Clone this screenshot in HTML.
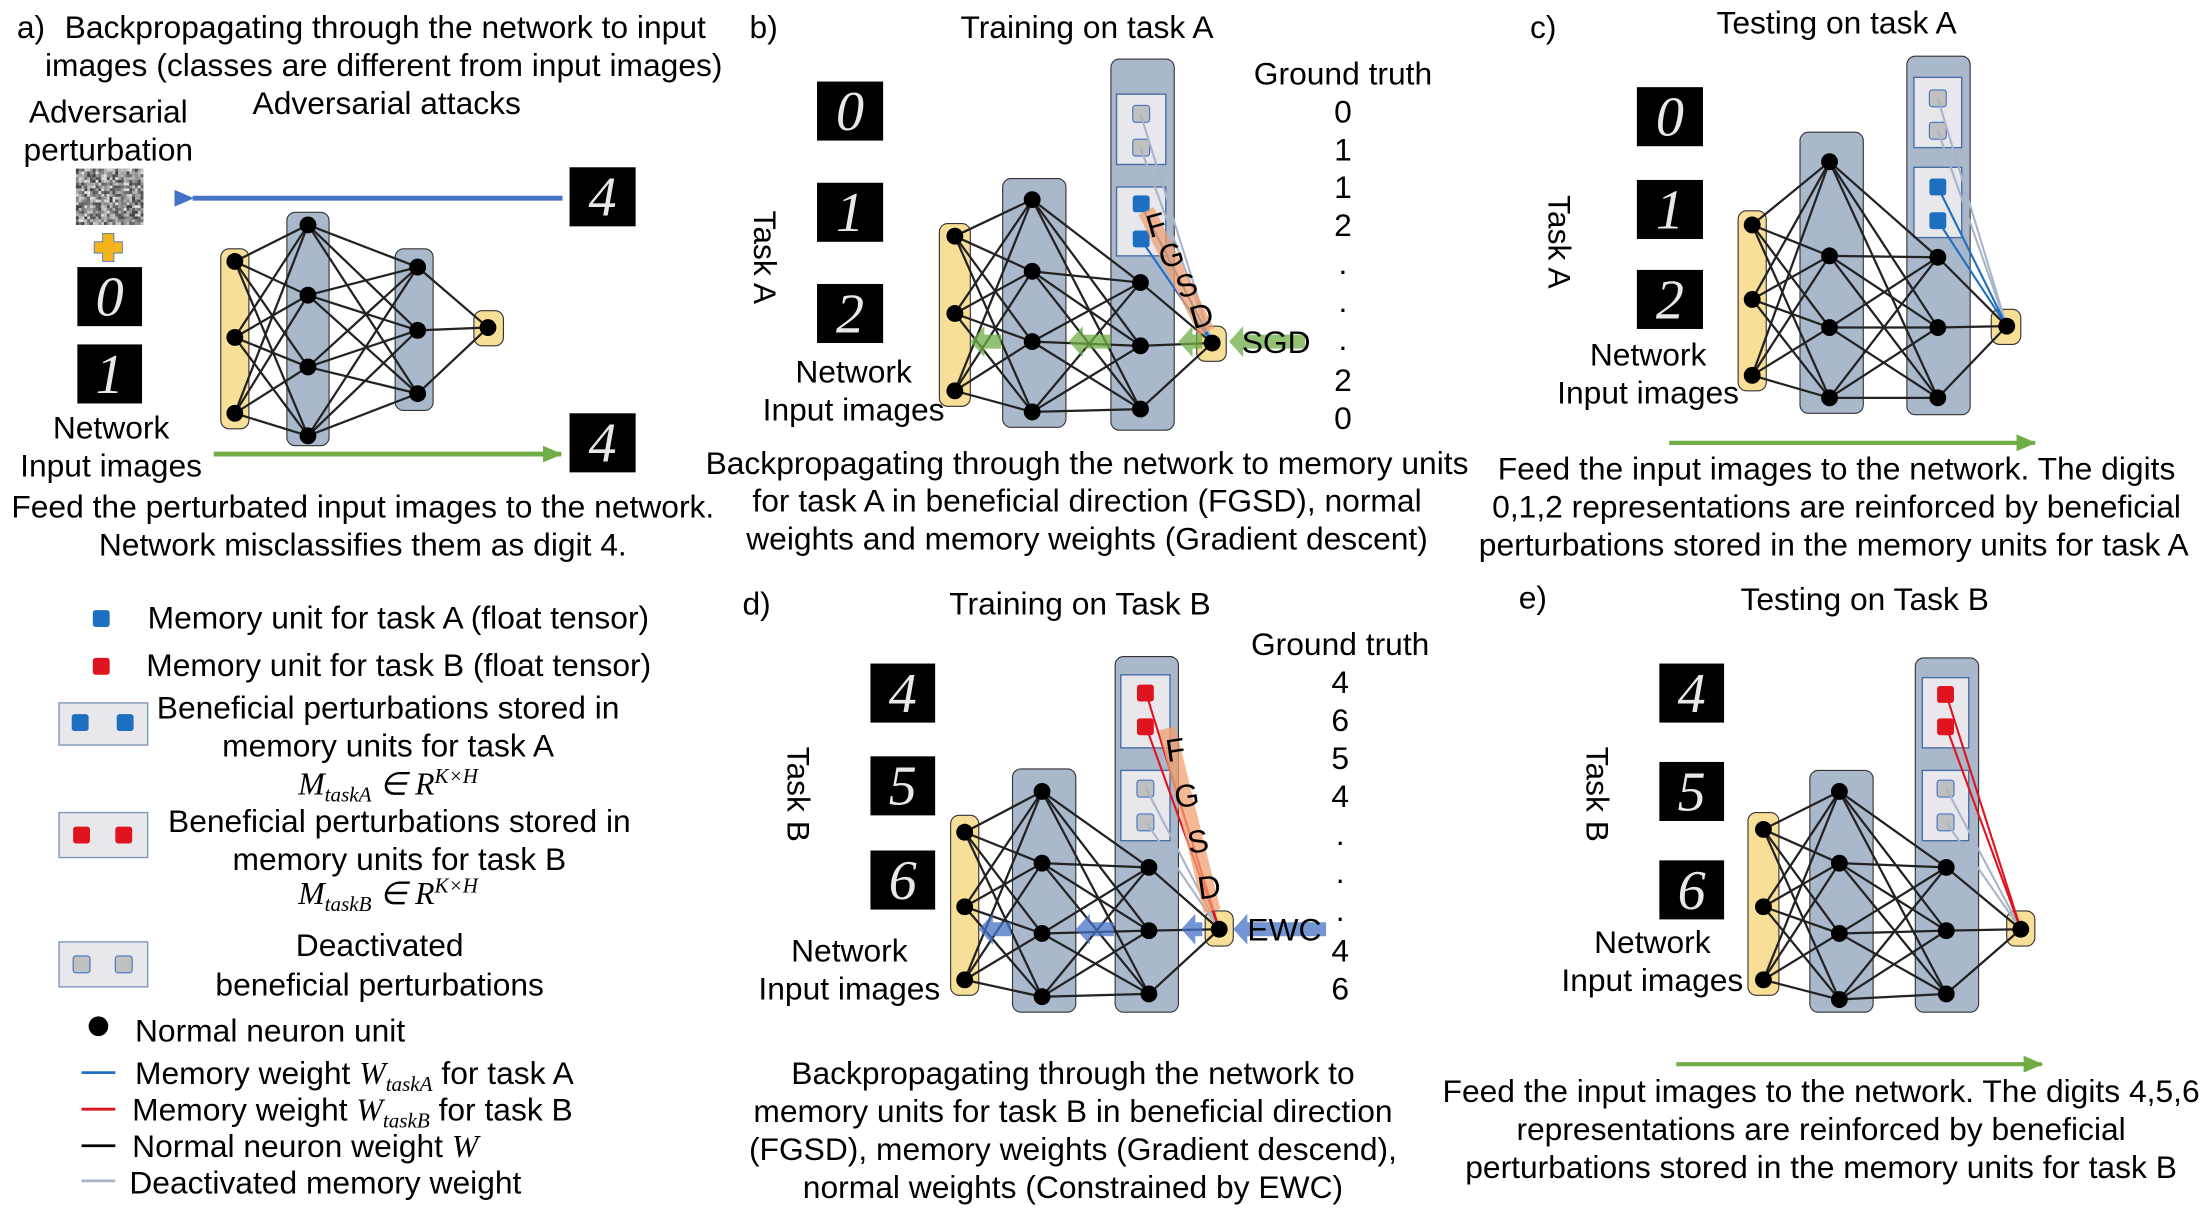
<!DOCTYPE html>
<html><head><meta charset="utf-8"><style>
html,body{margin:0;padding:0;background:#fff;}
svg{display:block;}
text{font-family:"Liberation Sans",Arial,sans-serif;font-size:22.6px;fill:#000;}
.c{text-anchor:middle;}
.m{font-family:"Liberation Serif",serif;font-style:italic;}
</style></head><body>
<svg id="s" xmlns="http://www.w3.org/2000/svg" width="2205" height="1209" viewBox="0 0 1568 860" preserveAspectRatio="none">
<defs>
<marker id="ab" markerUnits="userSpaceOnUse" markerWidth="14" markerHeight="14" refX="1" refY="7" orient="auto"><path d="M14,1 L0,7 L14,13 z" fill="#4472c4"/></marker>
<marker id="ag" markerUnits="userSpaceOnUse" markerWidth="14" markerHeight="14" refX="13" refY="7" orient="auto"><path d="M0,1 L14,7 L0,13 z" fill="#70ad47"/></marker>
</defs>
<g id="nets"></g>
<!-- Panel a -->
<text x="12" y="27">a)</text>
<text x="46" y="27">Backpropagating through the network to input</text>
<text x="32" y="54">images  (classes are different from input images)</text>
<text x="275" y="81" class="c">Adversarial attacks</text>
<text x="77" y="87" class="c">Adversarial</text>
<text x="77" y="114" class="c">perturbation</text>
<g id="noise"></g>
<path d="M73,166h8v6h6v8h-6v6h-8v-6h-6v-8h6z" fill="#f5b51a" stroke="#4472c4" stroke-width="0.6"/>
<text x="79" y="312" class="c">Network</text>
<text x="79" y="339" class="c">Input images</text>
<line x1="400" y1="141" x2="137" y2="141" stroke="#4472c4" stroke-width="3.5" marker-end="url(#ab)"/>
<line x1="152" y1="323" x2="399" y2="323" stroke="#70ad47" stroke-width="3.5" marker-end="url(#ag)"/>
<text x="258" y="368" class="c">Feed the perturbated input images to the network.</text>
<text x="258" y="395" class="c">Network misclassifies them as digit 4.</text>
<!-- Panel b -->
<text x="533" y="27">b)</text>
<text x="773" y="27" class="c">Training on task A</text>
<text x="955" y="60" class="c">Ground truth</text>
<text x="955" y="87" class="c">0</text><text x="955" y="114" class="c">1</text><text x="955" y="141" class="c">1</text><text x="955" y="168" class="c">2</text><text x="955" y="195" class="c">.</text><text x="955" y="222" class="c">.</text><text x="955" y="249" class="c">.</text><text x="955" y="278" class="c">2</text><text x="955" y="305" class="c">0</text>
<text transform="translate(536,183) rotate(90)" class="c">Task A</text>
<text x="607" y="272" class="c">Network</text>
<text x="607" y="299" class="c">Input images</text>
<text x="773" y="337" class="c">Backpropagating through the network to memory units</text>
<text x="773" y="364" class="c">for task A in beneficial direction  (FGSD), normal</text>
<text x="773" y="391" class="c">weights and memory weights (Gradient descent)</text>
<!-- Panel c -->
<text x="1088" y="27">c)</text>
<text x="1306" y="24" class="c">Testing on task A</text>
<text transform="translate(1101,172) rotate(90)" class="c">Task A</text>
<text x="1172" y="260" class="c">Network</text>
<text x="1172" y="287" class="c">Input images</text>
<line x1="1187" y1="315" x2="1447" y2="315" stroke="#70ad47" stroke-width="3" marker-end="url(#ag)"/>
<text x="1306" y="341" class="c">Feed the input images to the network. The digits</text>
<text x="1306" y="368" class="c">0,1,2 representations are reinforced by beneficial</text>
<text x="1304" y="395" class="c">perturbations stored in the memory units for task A</text>
<!-- Panel d -->
<text x="528" y="437">d)</text>
<text x="768" y="437" class="c">Training on Task B</text>
<text x="953" y="466" class="c">Ground truth</text>
<text x="953" y="493" class="c">4</text><text x="953" y="520" class="c">6</text><text x="953" y="547" class="c">5</text><text x="953" y="574" class="c">4</text><text x="953" y="601" class="c">.</text><text x="953" y="628" class="c">.</text><text x="953" y="655" class="c">.</text><text x="953" y="684" class="c">4</text><text x="953" y="711" class="c">6</text>
<text transform="translate(560,565) rotate(90)" class="c">Task B</text>
<text x="604" y="684" class="c">Network</text>
<text x="604" y="711" class="c">Input images</text>
<text x="763" y="771" class="c">Backpropagating through the network to</text>
<text x="763" y="798" class="c">memory units for task B  in beneficial direction</text>
<text x="763" y="825" class="c">(FGSD), memory weights (Gradient descend),</text>
<text x="763" y="852" class="c">normal weights (Constrained by EWC)</text>
<!-- Panel e -->
<text x="1080" y="433">e)</text>
<text x="1326" y="434" class="c">Testing on Task B</text>
<text transform="translate(1128,565) rotate(90)" class="c">Task B</text>
<text x="1175" y="678" class="c">Network</text>
<text x="1175" y="705" class="c">Input images</text>
<line x1="1192" y1="757" x2="1452" y2="757" stroke="#70ad47" stroke-width="3" marker-end="url(#ag)"/>
<text x="1295" y="784" class="c">Feed the input images to the network. The digits 4,5,6</text>
<text x="1295" y="811" class="c">representations are reinforced by beneficial</text>
<text x="1295" y="838" class="c">perturbations stored in the memory units for task B</text>
<!-- Legend -->
<rect x="66" y="434" width="12" height="12" rx="2" fill="#1f6fc0"/>
<text x="105" y="447">Memory unit for task A (float tensor)</text>
<rect x="66" y="468" width="12" height="12" rx="2" fill="#e0141e"/>
<text x="104" y="481">Memory unit for task B (float tensor)</text>
<rect x="42" y="500" width="63" height="30" fill="#e8e8ec" stroke="#7f98b8"/>
<rect x="51" y="508" width="12" height="12" rx="2" fill="#1f6fc0"/><rect x="83" y="508" width="12" height="12" rx="2" fill="#1f6fc0"/>
<text x="276" y="511" class="c">Beneficial perturbations stored in</text>
<text x="276" y="538" class="c">memory units for task A</text>
<text x="276" y="565" class="c m">M<tspan font-size="15" dy="5">taskA</tspan><tspan dy="-5"> ∈ R</tspan><tspan font-size="15" dy="-8">K×H</tspan></text>
<rect x="42" y="578" width="63" height="32" fill="#e8e8ec" stroke="#7f98b8"/>
<rect x="52" y="588" width="12" height="12" rx="2" fill="#e0141e"/><rect x="82" y="588" width="12" height="12" rx="2" fill="#e0141e"/>
<text x="284" y="592" class="c">Beneficial perturbations stored in</text>
<text x="284" y="619" class="c">memory units for task B</text>
<text x="276" y="643" class="c m">M<tspan font-size="15" dy="5">taskB</tspan><tspan dy="-5"> ∈ R</tspan><tspan font-size="15" dy="-8">K×H</tspan></text>
<rect x="42" y="670" width="63" height="32" fill="#e8e8ec" stroke="#7f98b8"/>
<rect x="52" y="680" width="12" height="12" rx="2" fill="#c0c0c0" stroke="#4472c4" stroke-width="0.8"/><rect x="82" y="680" width="12" height="12" rx="2" fill="#c0c0c0" stroke="#4472c4" stroke-width="0.8"/>
<text x="270" y="680" class="c">Deactivated</text>
<text x="270" y="708" class="c">beneficial perturbations</text>
<circle cx="70" cy="730" r="7" fill="#000"/>
<text x="96" y="741">Normal neuron unit</text>
<line x1="58" y1="763" x2="82" y2="763" stroke="#1f6fc0" stroke-width="2"/>
<text x="96" y="771">Memory weight <tspan class="m">W<tspan font-size="15" dy="5">taskA</tspan></tspan><tspan dy="-5"> for task A</tspan></text>
<line x1="58" y1="789" x2="82" y2="789" stroke="#e0141e" stroke-width="2"/>
<text x="94" y="797">Memory weight <tspan class="m">W<tspan font-size="15" dy="5">taskB</tspan></tspan><tspan dy="-5"> for task B</tspan></text>
<line x1="58" y1="815" x2="82" y2="815" stroke="#000" stroke-width="2"/>
<text x="94" y="823">Normal neuron weight <tspan class="m">W</tspan></text>
<line x1="58" y1="840" x2="82" y2="840" stroke="#aab4c8" stroke-width="2"/>
<text x="92" y="849">Deactivated memory weight</text>
<g id="digits"></g>
<g id="ov"></g>
</svg>
<script>
var NS="http://www.w3.org/2000/svg";
function el(p,t,a,txt){var e=document.createElementNS(NS,t);for(var k in a)e.setAttribute(k,a[k]);if(txt!==undefined)e.textContent=txt;p.appendChild(e);return e;}
var G=document.getElementById('nets'),OV=document.getElementById('ov'),D=document.getElementById('digits');
function net(c){
 var g=el(G,'g',{});
 c.bars.forEach(function(b){el(g,'rect',{x:b[0],y:b[1],width:b[2],height:b[3],rx:6,fill:b[4],stroke:'#333','stroke-width':0.8});});
 (c.mem||[]).forEach(function(m){el(g,'rect',{x:m[0],y:m[1],width:m[2],height:m[3],fill:'#e8e8ec',stroke:'#4a6fa5','stroke-width':1});
   m[4].forEach(function(sy){el(g,'rect',{x:m[0]+m[2]/2-6,y:sy-6,width:12,height:12,rx:2,fill:m[5],stroke:m[5]=='#c0c0c0'?'#4472c4':'none','stroke-width':0.8});});});
 var L=c.layers;
 for(var i=0;i<L.length-1;i++){L[i].ys.forEach(function(y1){L[i+1].ys.forEach(function(y2){el(g,'line',{x1:L[i].x,y1:y1,x2:L[i+1].x,y2:y2,stroke:'#222','stroke-width':1.6});});});}
 (c.mlines||[]).forEach(function(m){el(g,'line',{x1:m[0],y1:m[1],x2:m[2],y2:m[3],stroke:m[4],'stroke-width':m[5]||1.5});});
 L.forEach(function(l){l.ys.forEach(function(y){el(g,'circle',{cx:l.x,cy:y,r:6,fill:'#000'});});});
}
var Y='#f8df97',B='#aab8cc';
net({bars:[[157,177,20,128,Y],[204,151,30,166,B],[281,177,27,115,B],[337,221,21,25,Y]],
 layers:[{x:167,ys:[186,240,294]},{x:219,ys:[160,210,261,310]},{x:297,ys:[190,235,280]},{x:347,ys:[233]}]});
function fgsd(x1,y1,x2,y2,letters){
 el(OV,'line',{x1:x1,y1:y1,x2:x2,y2:y2,stroke:'#f0a070','stroke-width':12,'stroke-opacity':0.75});
 for(var i=0;i<letters.length;i++){var t=(i+0.5)/letters.length;var x=x1+(x2-x1)*t+2,y=y1+(y2-y1)*t+7;
  var ang=Math.atan2(y2-y1,x2-x1)*180/Math.PI-90;
  el(OV,'text',{x:x,y:y,'text-anchor':'middle',transform:'rotate('+(ang*0.6)+' '+x+' '+(y-7)+')'},letters[i]);}
}
function garrow(x1,x2,y,col){el(OV,'path',{d:'M'+x1+','+(y-5)+'H'+(x2+10)+'V'+(y-11)+'L'+x2+','+y+'L'+(x2+10)+','+(y+11)+'V'+(y+5)+'H'+x1+'z',fill:col,'fill-opacity':0.75});}
net({bars:[[668,159,22,130,Y],[713,127,45,177,B],[790,42,45,264,B],[851,232,21,25,Y]],
 mem:[[794,67,35,50,[81,105],'#c0c0c0'],[794,133,35,49,[145,170],'#1f6fc0']],
 layers:[{x:679,ys:[168,223,278]},{x:734,ys:[142,193,243,293]},{x:811,ys:[201,246,291]},{x:862,ys:[244]}],
 mlines:[[811,81,862,244,'#aab4c8'],[811,105,862,244,'#aab4c8'],[811,145,862,244,'#1f6fc0'],[811,170,862,244,'#1f6fc0']]});
fgsd(815,150,858,236,'FGSD');
garrow(928,874,243,'#70ad47');garrow(855,838,243,'#70ad47');garrow(790,760,243,'#70ad47');garrow(712,690,243,'#70ad47');
el(OV,'text',{x:883,y:251},'SGD');
net({bars:[[1236,150,20,128,Y],[1280,94,45,200,B],[1356,40,45,255,B],[1416,220,21,25,Y]],
 mem:[[1361,55,34,50,[70,93],'#c0c0c0'],[1361,119,34,50,[133,157],'#1f6fc0']],
 layers:[{x:1246,ys:[160,213,267]},{x:1301,ys:[115,182,233,283]},{x:1378,ys:[183,233,283]},{x:1427,ys:[232]}],
 mlines:[[1378,70,1427,232,'#aab4c8'],[1378,93,1427,232,'#aab4c8'],[1378,133,1427,232,'#1f6fc0'],[1378,157,1427,232,'#1f6fc0']]});
net({bars:[[676,580,20,128,Y],[720,547,45,173,B],[793,467,45,253,B],[857,648,20,25,Y]],
 mem:[[797,480,35,52,[493,517],'#e0141e'],[797,548,35,50,[561,585],'#c0c0c0']],
 layers:[{x:686,ys:[592,645,697]},{x:741,ys:[563,614,664,709]},{x:817,ys:[617,662,707]},{x:867,ys:[661]}],
 mlines:[[815,561,867,661,'#aab4c8'],[815,585,867,661,'#aab4c8'],[815,493,867,661,'#e0141e'],[815,517,867,661,'#e0141e']]});
fgsd(830,518,862,648,'FGSD');
garrow(943,877,661,'#4472c4');garrow(855,840,661,'#4472c4');garrow(792,765,661,'#4472c4');garrow(719,696,661,'#4472c4');
el(OV,'text',{x:887,y:669},'EWC');
net({bars:[[1243,578,22,130,Y],[1287,548,45,172,B],[1362,468,45,252,B],[1427,648,20,25,Y]],
 mem:[[1367,482,33,50,[494,517],'#e0141e'],[1367,548,33,50,[561,585],'#c0c0c0']],
 layers:[{x:1254,ys:[590,645,697]},{x:1308,ys:[563,614,664,711]},{x:1384,ys:[617,662,707]},{x:1437,ys:[661]}],
 mlines:[[1384,561,1437,661,'#aab4c8'],[1384,585,1437,661,'#aab4c8'],[1384,494,1437,661,'#e0141e'],[1384,517,1437,661,'#e0141e']]});
function dig(x,y,w,h,d){el(D,'rect',{x:x,y:y,width:w,height:h,fill:'#000'});
 el(D,'text',{x:x+w/2,y:y+h*0.82,'text-anchor':'middle',style:'font-family:"Liberation Serif",serif;font-style:italic;font-size:'+(h*0.95)+'px;fill:#e8e8e8'},d);}
dig(55,190,46,42,'0');dig(55,245,46,42,'1');dig(405,119,47,42,'4');dig(405,294,47,42,'4');
dig(581,58,47,42,'0');dig(581,130,47,42,'1');dig(581,202,47,42,'2');
dig(1164,62,47,42,'0');dig(1164,128,47,42,'1');dig(1164,192,47,42,'2');
dig(619,472,46,42,'4');dig(619,538,46,42,'5');dig(619,605,46,42,'6');
dig(1180,472,46,42,'4');dig(1180,542,46,42,'5');dig(1180,612,46,42,'6');
var N=document.getElementById('noise');var s=1;function r(){s=(s*16807)%2147483647;return s/2147483647;}
el(N,'rect',{x:54,y:120,width:48,height:40,fill:'#888'});
for(var i=0;i<24;i++)for(var j=0;j<20;j++){var v=Math.floor(60+r()*170);el(N,'rect',{x:54+i*2,y:120+j*2,width:2,height:2,fill:'rgb('+v+','+v+','+v+')'});}
</script>
</body></html>
